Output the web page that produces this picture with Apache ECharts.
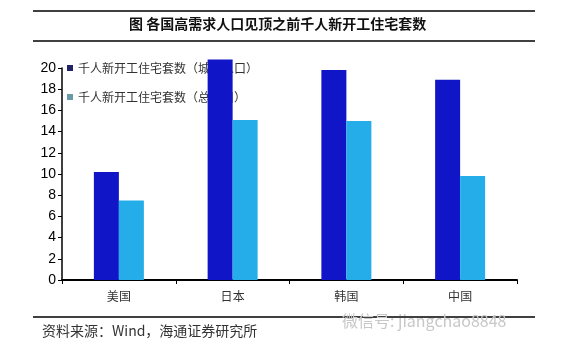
<!DOCTYPE html>
<html>
<head>
<meta charset="utf-8">
<script src="https://cdn.jsdelivr.net/npm/echarts@6/dist/echarts.min.js"></script>
<style>
  html, body { margin: 0; padding: 0; background: #fff; }
  #chart { width: 584px; height: 355px; }
</style>
</head>
<body>
<div id="chart"></div>
<script>
const categories = ["美国", "日本", "韩国", "中国"];
const urbanValues = [10.2, 20.8, 19.8, 18.9];
const totalValues = [7.5, 15.1, 15.0, 9.8];
const yTicks = [0, 2, 4, 6, 8, 10, 12, 14, 16, 18, 20];

const SERIES_NAMES = {
  urban: "千人新开工住宅套数（城镇人口）",
  total: "千人新开工住宅套数（总人口）",
};
const TITLE_TEXT = "图 各国高需求人口见顶之前千人新开工住宅套数";
const SOURCE_TEXT = "资料来源：Wind，海通证券研究所";
const WATERMARK_TEXT = "微信号: jiangchao8848";

const CJK = "'Noto Sans CJK SC', sans-serif";
const chart = echarts.init(document.getElementById("chart"));

chart.setOption({
  backgroundColor: "#fff",
  animation: false,
  grid: { left: 62, right: 67, top: 68, bottom: 75 },
  legend: {
    orient: "vertical",
    left: 62,
    top: 57,
    z: 1,
    itemWidth: 6,
    itemHeight: 6,
    itemGap: 17,
    icon: "rect",
    textStyle: { color: "#333", fontSize: 12, fontFamily: CJK },
    data: [
      { name: SERIES_NAMES.urban, itemStyle: { color: "#222266" } },
      { name: SERIES_NAMES.total, itemStyle: { color: "#6a9aa8" } },
    ],
  },
  xAxis: {
    type: "category",
    data: categories,
    axisLine: { lineStyle: { color: "#000", width: 2 } },
    axisTick: { show: true, length: 4, lineStyle: { color: "#000" } },
    axisLabel: { color: "#333", fontSize: 12, fontFamily: CJK, margin: 10 },
  },
  yAxis: {
    type: "value",
    min: 0,
    max: 20,
    interval: 2,
    axisLine: { show: true, lineStyle: { color: "#000", width: 1.5 } },
    axisTick: { show: true, length: 4, lineStyle: { color: "#000" } },
    splitLine: { show: false },
    axisLabel: {
      color: "#000",
      fontSize: 14,
      fontFamily: "'Liberation Sans', Arial, sans-serif",
      margin: 6,
      formatter: (v) => (yTicks.includes(v) ? String(v) : ""),
    },
  },
  series: [
    {
      name: SERIES_NAMES.urban,
      type: "bar",
      data: urbanValues,
      barWidth: 25,
      barGap: "0%",
      clip: false,
      z: 3,
      itemStyle: { color: "#1016c8" },
    },
    {
      name: SERIES_NAMES.total,
      type: "bar",
      data: totalValues,
      barWidth: 25,
      barGap: "0%",
      clip: false,
      z: 3,
      itemStyle: { color: "#24ade9" },
    },
  ],
  graphic: [
    { type: "line", shape: { x1: 33, y1: 11, x2: 535, y2: 11 }, style: { stroke: "#000", lineWidth: 1.5 } },
    { type: "line", shape: { x1: 33, y1: 41, x2: 535, y2: 41 }, style: { stroke: "#000", lineWidth: 1.5 } },
    {
      type: "text",
      left: 129,
      top: 17,
      style: { text: TITLE_TEXT, font: "bold 14px " + CJK, fill: "#111" },
    },
    { type: "line", shape: { x1: 33, y1: 317, x2: 535, y2: 317 }, style: { stroke: "#000", lineWidth: 1.5 } },
    {
      type: "text",
      left: 42,
      top: 324,
      style: { text: SOURCE_TEXT, font: "14px " + CJK, fill: "#333" },
    },
    {
      type: "text",
      left: 342,
      top: 313,
      style: { text: WATERMARK_TEXT, font: "16px " + CJK, fill: "#c8c8c8" },
    },
  ],
});

window.addEventListener("resize", () => chart.resize());
</script>
</body>
</html>
